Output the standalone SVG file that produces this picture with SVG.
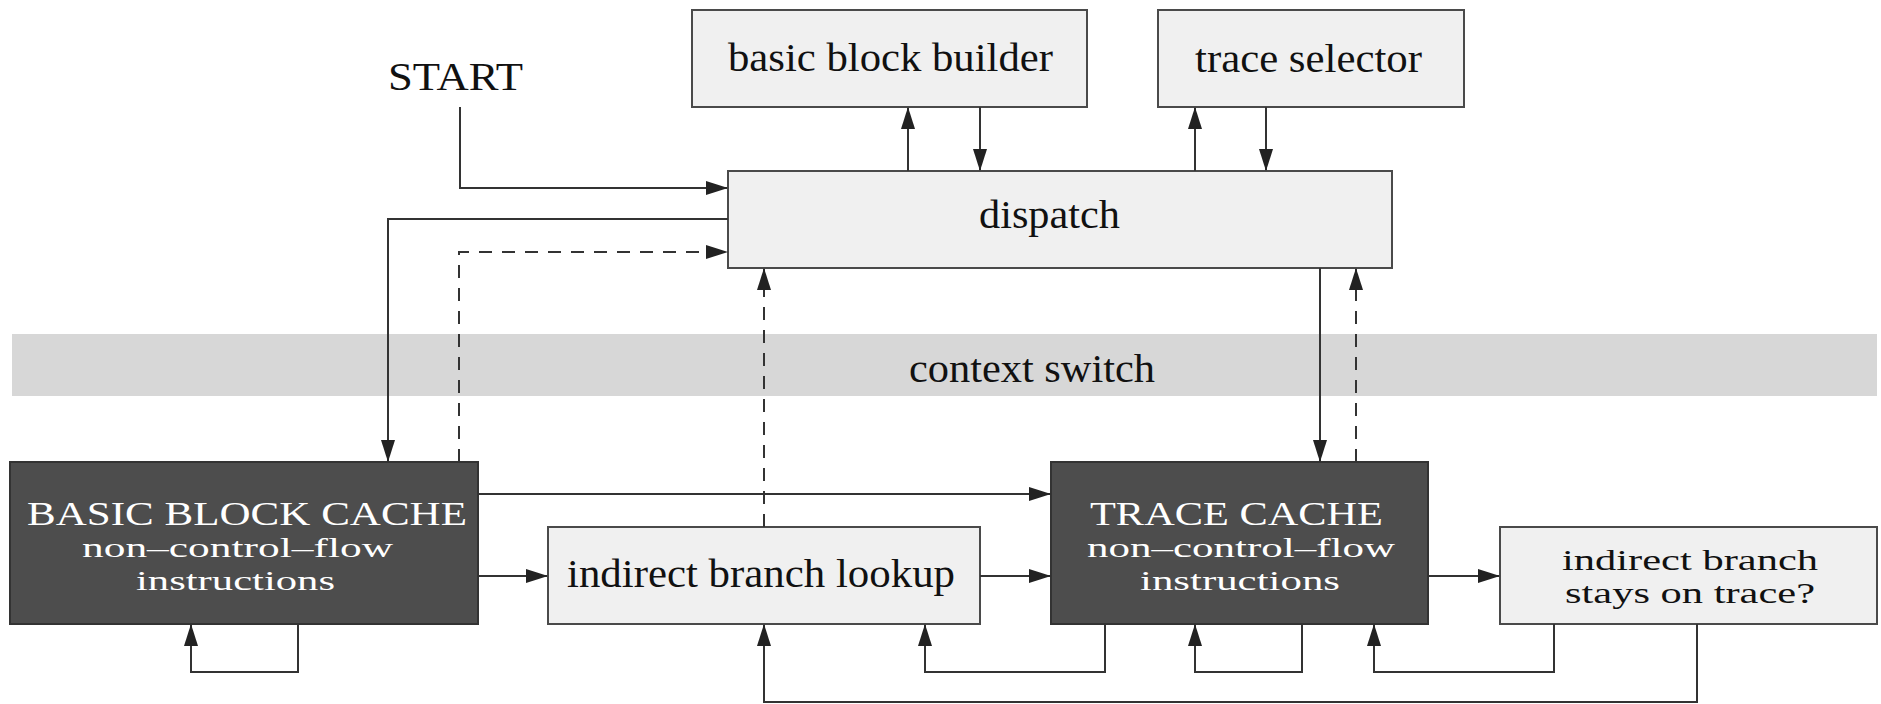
<svg xmlns="http://www.w3.org/2000/svg" width="1881" height="704" viewBox="0 0 1881 704">
<defs>
<marker id="arr" markerUnits="userSpaceOnUse" markerWidth="22" markerHeight="14" refX="21" refY="7" orient="auto">
<path d="M0,0 L22,7 L0,14 z" fill="#222"/>
</marker>
<style>
.box{fill:#f0f0f0;stroke:#4a4a4a;stroke-width:2}
.dark{fill:#4d4d4d;stroke:#333;stroke-width:2}
.t{font-family:"Liberation Serif","Times New Roman",serif;fill:#111}
.w{font-family:"Liberation Serif","Times New Roman",serif;fill:#fff}
.c{fill:none;stroke:#333;stroke-width:2;marker-end:url(#arr)}
.d{stroke-dasharray:13 10}
</style>
</defs>
<rect width="1881" height="704" fill="#fff"/>
<g id="context-switch">
<rect x="12" y="334" width="1865" height="62" fill="#d7d7d7"/>
<text class="t" x="909" y="382" font-size="40" textLength="246" lengthAdjust="spacingAndGlyphs">context switch</text>
</g>
<g id="start">
<text class="t" x="388" y="90" font-size="40" textLength="135" lengthAdjust="spacingAndGlyphs">START</text>
</g>
<g id="basic-block-builder">
<rect class="box" x="692" y="10" width="395" height="97"/>
<text class="t" x="728" y="71" font-size="40" textLength="325" lengthAdjust="spacingAndGlyphs">basic block builder</text>
</g>
<g id="trace-selector">
<rect class="box" x="1158" y="10" width="306" height="97"/>
<text class="t" x="1195" y="72" font-size="40" textLength="227" lengthAdjust="spacingAndGlyphs">trace selector</text>
</g>
<g id="dispatch">
<rect class="box" x="728" y="171" width="664" height="97"/>
<text class="t" x="979" y="228" font-size="40" textLength="141" lengthAdjust="spacingAndGlyphs">dispatch</text>
</g>
<g id="basic-block-cache">
<rect class="dark" x="10" y="462" width="468" height="162"/>
<text class="w" x="27" y="525" font-size="33" textLength="440" lengthAdjust="spacingAndGlyphs">BASIC BLOCK CACHE</text>
<text class="w" x="82" y="557" font-size="28" textLength="311" lengthAdjust="spacingAndGlyphs">non–control–flow</text>
<text class="w" x="136" y="590" font-size="28" textLength="199" lengthAdjust="spacingAndGlyphs">instructions</text>
</g>
<g id="indirect-branch-lookup">
<rect class="box" x="548" y="527" width="432" height="97"/>
<text class="t" x="567" y="587" font-size="40" textLength="388" lengthAdjust="spacingAndGlyphs">indirect branch lookup</text>
</g>
<g id="trace-cache">
<rect class="dark" x="1051" y="462" width="377" height="162"/>
<text class="w" x="1090" y="525" font-size="33" textLength="293" lengthAdjust="spacingAndGlyphs">TRACE CACHE</text>
<text class="w" x="1087" y="557" font-size="28" textLength="308" lengthAdjust="spacingAndGlyphs">non–control–flow</text>
<text class="w" x="1140" y="590" font-size="28" textLength="200" lengthAdjust="spacingAndGlyphs">instructions</text>
</g>
<g id="indirect-branch-stays">
<rect class="box" x="1500" y="527" width="377" height="97"/>
<text class="t" x="1562" y="570" font-size="29" textLength="256" lengthAdjust="spacingAndGlyphs">indirect branch</text>
<text class="t" x="1565" y="603" font-size="29" textLength="250" lengthAdjust="spacingAndGlyphs">stays on trace?</text>
</g>
<g id="connectors">
<path class="c" d="M460,107 V188 H727"/>
<path class="c" d="M728,219 H388 V461"/>
<path class="c d" d="M459,462 V252 H727"/>
<path class="c d" d="M764,527 V269"/>
<path class="c" d="M908,171 V108"/>
<path class="c" d="M980,107 V170"/>
<path class="c" d="M1195,171 V108"/>
<path class="c" d="M1266,107 V170"/>
<path class="c" d="M1320,268 V461"/>
<path class="c d" d="M1356,462 V269"/>
<path class="c" d="M478,494 H1050"/>
<path class="c" d="M478,576 H547"/>
<path class="c" d="M980,576 H1050"/>
<path class="c" d="M1428,576 H1499"/>
<path class="c" d="M298,624 V672 H191 V625"/>
<path class="c" d="M1105,624 V672 H925 V625"/>
<path class="c" d="M1302,624 V672 H1195 V625"/>
<path class="c" d="M1554,624 V672 H1374 V625"/>
<path class="c" d="M1697,624 V702 H764 V625"/>
</g>
</svg>
